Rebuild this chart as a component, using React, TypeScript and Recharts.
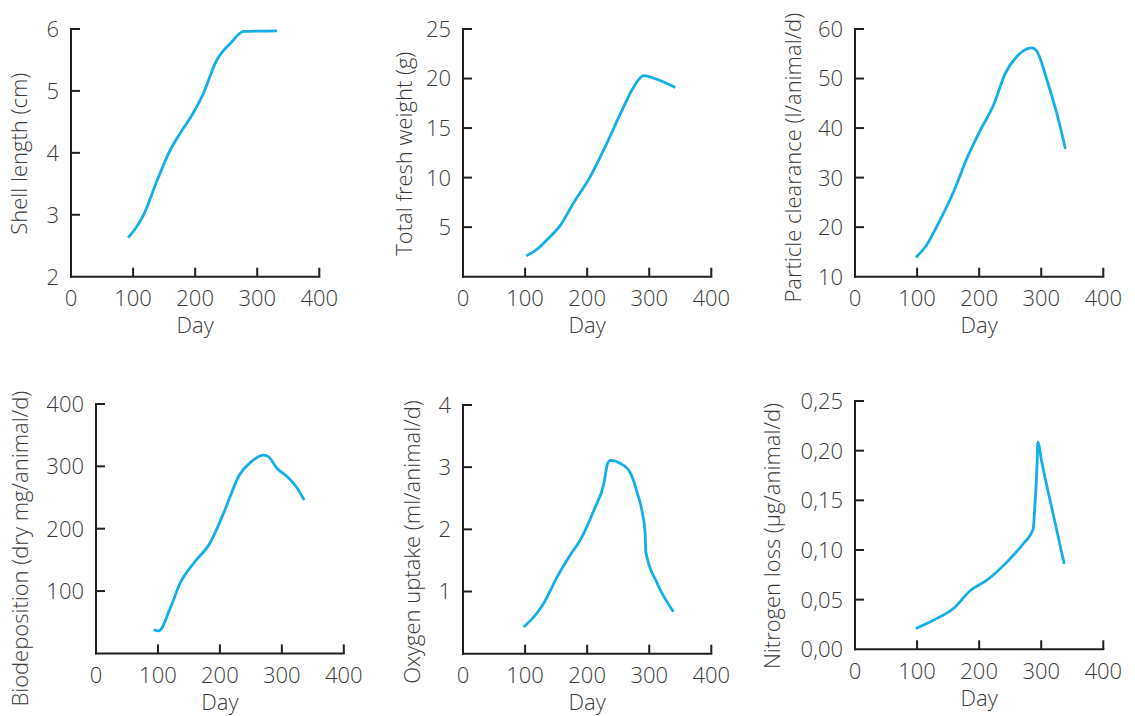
import { LineChart, Line, XAxis, YAxis } from 'recharts';

// Day values and readings
const shellDays = [92, 106, 117, 139, 160, 176, 195, 211, 235, 257, 278, 332];
const shellLength = [2.63, 2.81, 3.0, 3.56, 4.05, 4.32, 4.61, 4.91, 5.5, 5.77, 5.96, 5.97];

const weightDays = [102, 120, 135, 157, 178, 205, 232, 254, 275, 291, 313, 342];
const freshWeight = [2.1, 2.8, 3.7, 5.2, 7.44, 10.1, 13.5, 16.5, 19.15, 20.3, 19.9, 19.1];

const clearanceDays = [98, 116, 132, 159, 180, 202, 223, 242, 261, 285, 293, 309, 325, 339];
const clearance = [13.9, 16.5, 20.2, 27.2, 33.8, 39.6, 44.6, 51.0, 54.5, 56.2, 55.5, 49.8, 43.0, 35.8];

const bioDays = [93, 101, 120, 136, 158, 184, 206, 232, 249, 271, 279, 292, 308, 324, 336];
const biodeposition = [38, 36, 73, 113, 145, 177, 225, 287, 306, 318, 315, 297, 284, 266, 246];

const oxygenDays = [98, 119, 130, 152, 173, 189, 211, 227, 233, 237.5, 254, 270, 281, 289, 293.5, 294.5, 313, 339];
const oxygen = [0.43, 0.65, 0.81, 1.24, 1.59, 1.83, 2.31, 2.74, 3.06, 3.11, 3.06, 2.9, 2.58, 2.26, 1.94, 1.64, 1.13, 0.675];

const nitrogenDays = [98, 127, 159, 185, 213, 245, 272, 287, 290, 292, 293.5, 294.5, 301, 320, 337];
const nitrogen = [0.021, 0.0295, 0.0413, 0.0587, 0.0698, 0.088, 0.107, 0.121, 0.147, 0.168, 0.19, 0.2085, 0.188, 0.134, 0.086];

const dayTicks = [0, 100, 200, 300, 400];
const shellTicks = [2, 3, 4, 5, 6];
const weightTicks = [5, 10, 15, 20, 25];
const clearanceTicks = [10, 20, 30, 40, 50, 60];
const bioTicks = [100, 200, 300, 400];
const oxygenTicks = [1, 2, 3, 4];
const nitrogenTicks = [0, 0.05, 0.1, 0.15, 0.2, 0.25];

const FONT = '"Open Sans", "Liberation Sans", Arial, sans-serif';
const TEXT = '#3a3a3a';
const AXIS = '#231f20';
const BLUE = '#14aee8';
const FS = 22;
const TICK_LEN = 9;

// extra room round each plot so the titles are not clipped by the svg
const PAD_L = 40;
const PAD_T = 40;
const PAD_B = 40;

const toRows = (days: number[], vals: number[]) => days.map((d, i) => ({ day: d, v: vals[i] }));
const plain = (v: number) => String(v);
const comma = (v: number) => v.toFixed(2).replace('.', ',');

function YTick(props: any) {
    const { x, y, payload, min, margin, fmt } = props;
    return (
        <g>
            {payload.value !== min && (
                <line x1={x + margin} x2={x + margin + TICK_LEN} y1={y} y2={y} stroke={AXIS} strokeWidth={2} />
            )}
            <text x={x} y={y} dy="0.36em" textAnchor="end" fill={TEXT} fontSize={FS} fontFamily={FONT} fontWeight={300}>
                {fmt(payload.value)}
            </text>
        </g>
    );
}

function XTick(props: any) {
    const { x, y, payload, margin } = props;
    return (
        <g>
            {payload.value !== 0 && (
                <line x1={x} x2={x} y1={y - margin} y2={y - margin - TICK_LEN} stroke={AXIS} strokeWidth={2} />
            )}
            <text x={x} y={y} dy="0.74em" textAnchor="middle" fill={TEXT} fontSize={FS} fontFamily={FONT} fontWeight={300}>
                {payload.value}
            </text>
        </g>
    );
}

interface PanelProps {
    left: number; top: number; pw: number; ph: number;
    rows: { day: number; v: number }[];
    yDomain: [number, number]; yTicks: number[]; fmt: (v: number) => string;
    title: string; titleX: number; titleY: number;
}

function Panel({ left, top, pw, ph, rows, yDomain, yTicks, fmt, title, titleX, titleY }: PanelProps) {
    const yMargin = 12;
    const xMargin = 13;
    const labelStyle = { fill: TEXT, fontSize: FS, fontFamily: FONT, fontWeight: 300 };
    return (
        <div style={{ position: 'absolute', left: left - 70 - PAD_L, top: top - PAD_T }}>
            <LineChart
                width={pw + 90 + PAD_L}
                height={ph + 70 + PAD_T + PAD_B}
                data={rows}
                margin={{ top: PAD_T, right: 20, left: PAD_L, bottom: PAD_B }}
            >
                <XAxis
                    type="number"
                    dataKey="day"
                    domain={[0, 400]}
                    ticks={dayTicks}
                    interval={0}
                    height={70}
                    tickSize={0}
                    tickMargin={xMargin}
                    axisLine={{ stroke: AXIS, strokeWidth: 2, strokeLinecap: 'square' }}
                    tick={(p: any) => <XTick {...p} margin={xMargin} />}
                    label={{ value: 'Day', position: 'center', dy: 14, ...labelStyle }}
                />
                <YAxis
                    type="number"
                    domain={yDomain}
                    ticks={yTicks}
                    interval={0}
                    width={70}
                    tickSize={0}
                    tickMargin={yMargin}
                    axisLine={{ stroke: AXIS, strokeWidth: 2, strokeLinecap: 'square' }}
                    tick={(p: any) => <YTick {...p} margin={yMargin} min={yDomain[0]} fmt={fmt} />}
                    label={{
                        value: title,
                        angle: -90,
                        position: 'center',
                        dx: titleX - (left - 35),
                        dy: titleY - (top + ph / 2),
                        ...labelStyle,
                    }}
                />
                <Line
                    type="monotone"
                    dataKey="v"
                    stroke={BLUE}
                    strokeWidth={2.8}
                    dot={false}
                    isAnimationActive={false}
                />
            </LineChart>
        </div>
    );
}

export default function App() {
    return (
        <div style={{ position: 'absolute', left: 0, top: 0, width: 1135, height: 716, overflow: 'hidden', background: '#fff' }}>
            <Panel left={70.7} top={29.3} pw={248.3} ph={247.7} rows={toRows(shellDays, shellLength)}
                yDomain={[2, 6]} yTicks={shellTicks} fmt={plain} title="Shell length (cm)" titleX={19} titleY={154} />
            <Panel left={462.7} top={29.3} pw={248.3} ph={247.7} rows={toRows(weightDays, freshWeight)}
                yDomain={[0, 25]} yTicks={weightTicks} fmt={plain} title="Total fresh weight (g)" titleX={404} titleY={154} />
            <Panel left={855} top={29.3} pw={248.3} ph={247.7} rows={toRows(clearanceDays, clearance)}
                yDomain={[10, 60]} yTicks={clearanceTicks} fmt={plain} title="Particle clearance (l/animal/d)" titleX={793} titleY={158} />
            <Panel left={95.5} top={404.3} pw={247.8} ph={249.4} rows={toRows(bioDays, biodeposition)}
                yDomain={[0, 400]} yTicks={bioTicks} fmt={plain} title="Biodeposition (dry mg/animal/d)" titleX={20} titleY={549} />
            <Panel left={462.7} top={405} pw={248.3} ph={248.7} rows={toRows(oxygenDays, oxygen)}
                yDomain={[0, 4]} yTicks={oxygenTicks} fmt={plain} title="Oxygen uptake (ml/animal/d)" titleX={412} titleY={542} />
            <Panel left={855} top={401} pw={248.3} ph={248.3} rows={toRows(nitrogenDays, nitrogen)}
                yDomain={[0, 0.25]} yTicks={nitrogenTicks} fmt={comma} title="Nitrogen loss (µg/animal/d)" titleX={772} titleY={536} />
        </div>
    );
}
